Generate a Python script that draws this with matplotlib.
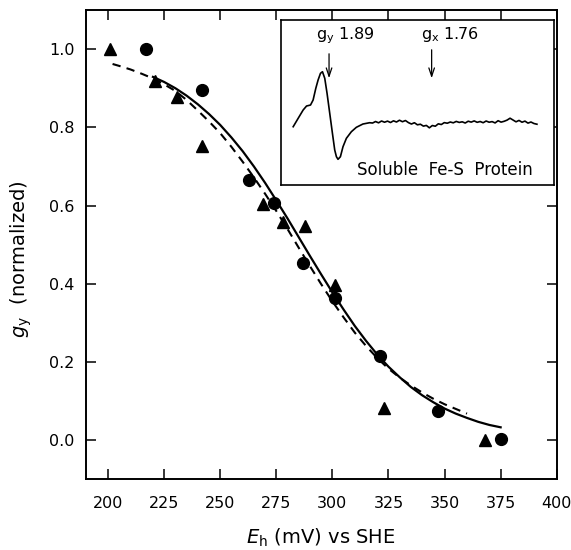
import numpy as np
import matplotlib
matplotlib.use('Agg')
import matplotlib.pyplot as plt

# titration points (Eh in mV, normalized g_y amplitude)
tri_eh = [201, 221, 230.5, 242, 269, 278, 288, 301, 323, 368]
tri_gy = [1.0, 0.918, 0.877, 0.753, 0.605, 0.557, 0.549, 0.397, 0.083, 0.0]
circ_eh = [217, 242, 263, 274, 287, 301, 321, 347, 375]
circ_gy = [1.0, 0.896, 0.666, 0.607, 0.454, 0.364, 0.216, 0.074, 0.003]

# fitted curves
fit_eh = [220, 225, 230, 235, 240, 245, 250, 255, 260, 265, 270, 275, 280, 285, 290, 295,
	300, 305, 310, 315, 320, 325, 330, 335, 340, 345, 350, 355, 360, 365, 370, 375]
fit_gy = [0.929, 0.916, 0.900, 0.881, 0.859, 0.834, 0.806, 0.774, 0.739, 0.700, 0.658, 0.613,
	0.567, 0.519, 0.471, 0.424, 0.378, 0.334, 0.292, 0.254, 0.219, 0.188, 0.161, 0.136,
	0.115, 0.097, 0.081, 0.068, 0.057, 0.047, 0.039, 0.033]
dash_eh = [202, 205, 210, 215, 220, 225, 230, 235, 240, 245, 250, 255, 260, 265, 270, 275, 280,
	285, 290, 295, 300, 305, 310, 315, 320, 325, 330, 335, 340, 345, 350, 355, 360]
dash_gy = [0.962, 0.957, 0.948, 0.937, 0.925, 0.910, 0.893, 0.870, 0.843, 0.815, 0.785, 0.750,
	0.712, 0.672, 0.630, 0.586, 0.540, 0.492, 0.445, 0.399, 0.355, 0.314, 0.275, 0.241,
	0.210, 0.183, 0.160, 0.140, 0.122, 0.106, 0.092, 0.080, 0.068]

xticks = [200, 225, 250, 275, 300, 325, 350, 375, 400]
yticks = [0.0, 0.2, 0.4, 0.6, 0.8, 1.0]

# EPR spectrum in the inset (arbitrary field / amplitude units)
epr_x = [12.3, 17.3, 22.3, 25.7, 29.7, 32.3, 35, 37.3, 39.7, 41.7, 44, 46.3, 49, 51.7, 54, 55.7, 57.3,
	59.7, 62.3, 65.7, 70.7, 75.7, 82.3, 89,
	92, 95, 98, 101, 104, 107, 110, 113, 116, 119, 122, 125, 128, 131, 134, 137, 140, 143, 146, 149,
	152, 155, 158, 161, 164, 167, 170, 173, 176, 179, 182, 185, 188, 191, 194, 197, 200, 203, 206, 209,
	212, 215, 218, 221, 224, 227, 230, 233, 236, 239, 242, 245, 248, 251, 254, 257]
epr_y = [58.3, 66.7, 75, 79, 80, 85, 96.7, 105, 111.7, 113.3, 106.7, 91.7, 71.7, 51.7, 35, 28.3, 25.7,
	28.3, 38.3, 46.7, 53.3, 57.7, 61, 62.3,
	62.0, 63.5, 62.2, 64.0, 62.8, 63.9, 62.5, 64.2, 63.0, 64.8, 63.3, 64.5, 62.4, 61.0, 62.3, 60.2, 60.8, 58.9, 59.6, 57.2,
	59.5, 58.8, 61.2, 60.5, 62.4, 61.8, 63.0, 62.2, 63.6, 62.6, 63.2, 62.0, 63.8, 62.9, 64.1, 62.7, 63.5, 62.3, 64.0, 62.8,
	63.4, 62.1, 64.3, 62.9, 63.7, 64.9, 66.8, 65.0, 63.2, 64.6, 62.8, 63.9, 61.9, 63.0, 61.5, 60.8]
gy_pos = 48.3
gx_pos = 151.3

if __name__=='__main__':
	fig = plt.figure(figsize=(5.71, 5.5), dpi=100)
	ax = fig.add_axes([0.150, 0.1285, 0.825, 0.8533])

	ax.plot(dash_eh, dash_gy, color='black', lw=1.5, ls=(0, (4, 3)))
	ax.plot(fit_eh, fit_gy, color='black', lw=1.6)
	ax.plot(tri_eh, tri_gy, '^', color='black', ms=8, mec='black')
	ax.plot(circ_eh, circ_gy, 'o', color='black', ms=8.5, mec='black')

	ax.set_xlim(190, 400)
	ax.set_ylim(-0.1, 1.1)
	ax.set_xticks(xticks)
	ax.set_yticks(yticks)
	ax.set_yticklabels(['%.1f' % v for v in yticks])
	ax.tick_params(direction='in', length=7, width=1.1, top=True, right=True, labelsize=11.5)
	ax.tick_params(axis='x', pad=12)
	ax.tick_params(axis='y', pad=8)
	for s in ax.spines.values():
		s.set_linewidth(1.4)

	ax.set_xlabel(r'$E$$_\mathregular{h}$ (mV) vs SHE', fontsize=14)
	ax.set_ylabel(r'$g$$_\mathregular{y}$  (normalized)', fontsize=14)
	ax.xaxis.set_label_coords(0.5, -0.1)
	ax.yaxis.set_label_coords(-0.11, 0.47)

	# inset with the EPR spectrum
	axin = fig.add_axes([0.492, 0.6636, 0.478, 0.30])
	axin.plot(epr_x, epr_y, color='black', lw=1.2)
	axin.set_xlim(0, 274)
	axin.set_ylim(0, 165)
	axin.set_xticks([])
	axin.set_yticks([])
	for s in axin.spines.values():
		s.set_linewidth(1.2)
	axin.annotate('', xy=(gy_pos, 104), xytext=(gy_pos, 134),
		arrowprops=dict(arrowstyle='->,head_length=0.6,head_width=0.2', lw=0.9, color='black'))
	axin.annotate('', xy=(gx_pos, 104), xytext=(gx_pos, 138),
		arrowprops=dict(arrowstyle='->,head_length=0.6,head_width=0.2', lw=0.9, color='black'))
	axin.text(35.7, 145.7, r'g$_\mathregular{y}$ 1.89', fontsize=11.5, va='baseline')
	axin.text(140.7, 145.7, r'g$_\mathregular{x}$ 1.76', fontsize=11.5, va='baseline')
	axin.text(76.3, 10, 'Soluble  Fe-S  Protein', fontsize=12, va='baseline')

	plt.savefig('out.png', dpi=100)
